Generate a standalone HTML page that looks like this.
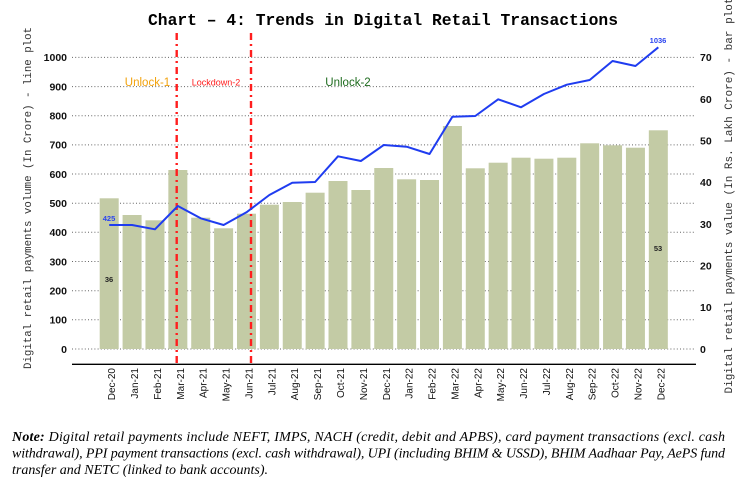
<!DOCTYPE html>
<html><head><meta charset="utf-8"><style>
html,body{margin:0;padding:0;background:#fff;}
body{width:744px;height:481px;position:relative;overflow:hidden;}
svg{position:absolute;left:0;top:0;}
</style></head><body>
<svg width="744" height="481" viewBox="0 0 744 481" xmlns="http://www.w3.org/2000/svg">
<!-- title -->
<text x="383" y="25" text-anchor="middle" font-family="Liberation Mono, monospace" font-weight="bold" font-size="16.3" textLength="470" lengthAdjust="spacingAndGlyphs">Chart – 4: Trends in Digital Retail Transactions</text>
<!-- grid -->
<g stroke="#666" stroke-width="1" stroke-dasharray="1,2.2">
<line x1="72" x2="695" y1="349" y2="349"/>
<line x1="72" x2="695" y1="319.8" y2="319.8"/>
<line x1="72" x2="695" y1="290.7" y2="290.7"/>
<line x1="72" x2="695" y1="261.5" y2="261.5"/>
<line x1="72" x2="695" y1="232.3" y2="232.3"/>
<line x1="72" x2="695" y1="203.2" y2="203.2"/>
<line x1="72" x2="695" y1="174" y2="174"/>
<line x1="72" x2="695" y1="144.9" y2="144.9"/>
<line x1="72" x2="695" y1="115.7" y2="115.7"/>
<line x1="72" x2="695" y1="86.6" y2="86.6"/>
<line x1="72" x2="695" y1="57.4" y2="57.4"/>
</g>
<!-- left ticks -->
<g font-family="Liberation Sans, sans-serif" font-weight="bold" font-size="10.5" text-anchor="end" fill="#111">
<text x="67" y="352.8">0</text>
<text x="67" y="323.6">100</text>
<text x="67" y="294.5">200</text>
<text x="67" y="265.3">300</text>
<text x="67" y="236.1">400</text>
<text x="67" y="207">500</text>
<text x="67" y="177.8">600</text>
<text x="67" y="148.7">700</text>
<text x="67" y="119.5">800</text>
<text x="67" y="90.4">900</text>
<text x="67" y="61.2">1000</text>
</g>
<!-- right ticks -->
<g font-family="Liberation Sans, sans-serif" font-weight="bold" font-size="10.5" text-anchor="start" fill="#111">
<text x="700" y="352.8">0</text>
<text x="700" y="311.1">10</text>
<text x="700" y="269.5">20</text>
<text x="700" y="227.8">30</text>
<text x="700" y="186.1">40</text>
<text x="700" y="144.5">50</text>
<text x="700" y="102.8">60</text>
<text x="700" y="61.1">70</text>
</g>
<!-- bars -->
<g fill="#c3cba5">
<rect x="99.7" y="198.3" width="19" height="150.7"/>
<rect x="122.58" y="215" width="19" height="134"/>
<rect x="145.46" y="220.3" width="19" height="128.7"/>
<rect x="168.34" y="170" width="19" height="179"/>
<rect x="191.22" y="217.7" width="19" height="131.3"/>
<rect x="214.1" y="228.3" width="19" height="120.7"/>
<rect x="236.98" y="213.7" width="19" height="135.3"/>
<rect x="259.86" y="204.7" width="19" height="144.3"/>
<rect x="282.74" y="202" width="19" height="147"/>
<rect x="305.62" y="192.7" width="19" height="156.3"/>
<rect x="328.5" y="181" width="19" height="168"/>
<rect x="351.38" y="190" width="19" height="159"/>
<rect x="374.26" y="168" width="19" height="181"/>
<rect x="397.14" y="179.3" width="19" height="169.7"/>
<rect x="420.02" y="180" width="19" height="169"/>
<rect x="442.9" y="126" width="19" height="223"/>
<rect x="465.78" y="168.3" width="19" height="180.7"/>
<rect x="488.66" y="162.7" width="19" height="186.3"/>
<rect x="511.54" y="157.7" width="19" height="191.3"/>
<rect x="534.42" y="158.7" width="19" height="190.3"/>
<rect x="557.3" y="157.7" width="19" height="191.3"/>
<rect x="580.18" y="143.3" width="19" height="205.7"/>
<rect x="603.06" y="145.3" width="19" height="203.7"/>
<rect x="625.94" y="147.7" width="19" height="201.3"/>
<rect x="648.82" y="130.3" width="19" height="218.7"/>
</g>
<!-- axis -->
<line x1="72" x2="696" y1="364.3" y2="364.3" stroke="#000" stroke-width="1.4"/>
<!-- red lines -->
<g stroke="#ff1e1e" stroke-width="2.4" stroke-dasharray="7,4,2,4">
<line x1="176.7" x2="176.7" y1="33" y2="365"/>
<line x1="251" x2="251" y1="33" y2="365"/>
</g>
<!-- region labels -->
<g font-family="Liberation Sans, sans-serif" text-anchor="middle">
<text x="147.5" y="86" font-size="11.5" fill="#f2a20c">Unlock-1</text>
<text x="216" y="85.5" font-size="9" fill="#ff1a1a">Lockdown-2</text>
<text x="348" y="86" font-size="11.5" fill="#1e6b1e">Unlock-2</text>
</g>
<!-- blue line -->
<polyline fill="none" stroke="#1f3cf0" stroke-width="2" stroke-linejoin="round" points="109.2,225 132.08,225 154.96,229.3 177.84,206 200.72,218.3 223.6,225 246.48,212.3 269.36,195 292.24,182.7 315.12,182 338,156.3 360.88,161 383.76,145 406.64,146.7 429.52,154 452.4,116.7 475.28,116 498.16,99.3 521.04,107.3 543.92,94 566.8,84.7 589.68,80 612.56,61 635.44,66 658.32,47.3"/>
<!-- annotations -->
<g font-family="Liberation Sans, sans-serif" font-weight="bold" font-size="7.5" text-anchor="middle">
<text x="109" y="221" fill="#2a44f0">425</text>
<text x="658" y="43" fill="#2a44f0">1036</text>
<text x="109" y="282" fill="#222">36</text>
<text x="658" y="251" fill="#222">53</text>
</g>
<!-- x labels -->
<g font-family="Liberation Sans, sans-serif" font-size="10" fill="#111" text-anchor="end" dominant-baseline="central">
<text transform="translate(112.7,368) rotate(-90)">Dec-20</text>
<text transform="translate(135.58,368) rotate(-90)">Jan-21</text>
<text transform="translate(158.46,368) rotate(-90)">Feb-21</text>
<text transform="translate(181.34,368) rotate(-90)">Mar-21</text>
<text transform="translate(204.22,368) rotate(-90)">Apr-21</text>
<text transform="translate(227.1,368) rotate(-90)">May-21</text>
<text transform="translate(249.98,368) rotate(-90)">Jun-21</text>
<text transform="translate(272.86,368) rotate(-90)">Jul-21</text>
<text transform="translate(295.74,368) rotate(-90)">Aug-21</text>
<text transform="translate(318.62,368) rotate(-90)">Sep-21</text>
<text transform="translate(341.5,368) rotate(-90)">Oct-21</text>
<text transform="translate(364.38,368) rotate(-90)">Nov-21</text>
<text transform="translate(387.26,368) rotate(-90)">Dec-21</text>
<text transform="translate(410.14,368) rotate(-90)">Jan-22</text>
<text transform="translate(433.02,368) rotate(-90)">Feb-22</text>
<text transform="translate(455.9,368) rotate(-90)">Mar-22</text>
<text transform="translate(478.78,368) rotate(-90)">Apr-22</text>
<text transform="translate(501.66,368) rotate(-90)">May-22</text>
<text transform="translate(524.54,368) rotate(-90)">Jun-22</text>
<text transform="translate(547.42,368) rotate(-90)">Jul-22</text>
<text transform="translate(570.3,368) rotate(-90)">Aug-22</text>
<text transform="translate(593.18,368) rotate(-90)">Sep-22</text>
<text transform="translate(616.06,368) rotate(-90)">Oct-22</text>
<text transform="translate(638.94,368) rotate(-90)">Nov-22</text>
<text transform="translate(661.82,368) rotate(-90)">Dec-22</text>
</g>
<!-- axis titles -->
<text transform="translate(29,198) rotate(-90)" text-anchor="middle" dominant-baseline="central" font-family="Liberation Mono, monospace" font-size="10.75" fill="#333" textLength="342" lengthAdjust="spacingAndGlyphs">Digital retail payments volume (In Crore) - line plot</text>
<text transform="translate(730,393.5) rotate(-90)" text-anchor="start" dominant-baseline="central" font-family="Liberation Mono, monospace" font-size="10.75" fill="#333" textLength="396" lengthAdjust="spacingAndGlyphs">Digital retail payments value (In Rs. Lakh Crore) - bar plot</text>
<!-- note -->
<g font-family="Liberation Serif, serif" font-style="italic" font-size="14" fill="#000">
<text x="12" y="441" textLength="713" lengthAdjust="spacing"><tspan font-weight="bold">Note:</tspan> Digital retail payments include NEFT, IMPS, NACH (credit, debit and APBS), card payment transactions (excl. cash</text>
<text x="12" y="457.5" textLength="713" lengthAdjust="spacing">withdrawal), PPI payment transactions (excl. cash withdrawal), UPI (including BHIM &amp; USSD), BHIM Aadhaar Pay, AePS fund</text>
<text x="12" y="474" textLength="256" lengthAdjust="spacing">transfer and NETC (linked to bank accounts).</text>
</g>
</svg>
</body></html>
